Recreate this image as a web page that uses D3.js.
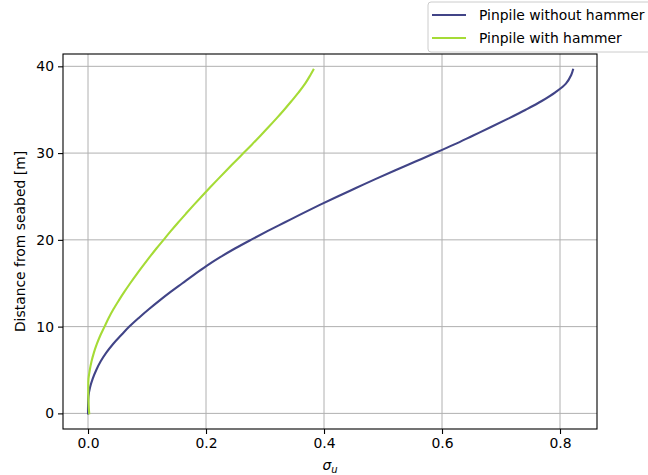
<!DOCTYPE html>
<html>
<head>
<meta charset="utf-8">
<script src="https://cdn.jsdelivr.net/npm/d3@7"></script>
<style>
  html, body { margin: 0; padding: 0; background: #fff; }
  svg { display: block; font-family: "DejaVu Sans", sans-serif; }
</style>
</head>
<body>
<svg id="chart" width="648" height="475"></svg>
<script>
// Standard deviation of displacement along the pile, sampled by height above seabed [m]
const heightNoHammer = [0, 1, 2, 3, 4, 5, 6, 7, 8, 9, 10, 11, 12, 13, 14, 15, 16, 17, 18, 19, 20,
  21, 22, 23, 24, 25, 26, 27, 28, 29, 30, 31, 32, 33, 34, 35, 36, 37, 38, 39, 39.6];
const sigmaNoHammer = [0, 0.0001, 0.0008, 0.0035, 0.008, 0.014, 0.0215, 0.031, 0.0425, 0.056, 0.070,
  0.086, 0.103, 0.121, 0.140, 0.160, 0.180, 0.201, 0.224, 0.249, 0.276,
  0.304, 0.333, 0.362, 0.392, 0.423, 0.455, 0.487, 0.520, 0.554, 0.588,
  0.621, 0.652, 0.683, 0.713, 0.742, 0.769, 0.792, 0.810, 0.819, 0.822];

const heightHammer = [0, 1, 2, 3, 4, 5, 6, 7, 8, 9, 10, 11, 12, 13, 14, 15, 16, 17, 18, 19, 20,
  21, 22, 23, 24, 25, 26, 27, 28, 29, 30, 31, 32, 33, 34, 35, 36, 37, 38, 39, 39.6];
const sigmaHammer = [0.002, 0.001, 0.0005, 0.0004, 0.0008, 0.003, 0.006, 0.010, 0.015, 0.021, 0.028,
  0.035, 0.043, 0.052, 0.0615, 0.0715, 0.082, 0.093, 0.1043, 0.1159, 0.128,
  0.1402, 0.1528, 0.1658, 0.179, 0.1925, 0.2063, 0.2203, 0.2345, 0.249, 0.2635,
  0.278, 0.2922, 0.306, 0.3195, 0.3325, 0.345, 0.357, 0.368, 0.377, 0.382];

const seriesNames  = ["Pinpile without hammer", "Pinpile with hammer"];
const seriesColors = ["#414487", "#a5db36"];

const xTicks = [0.0, 0.2, 0.4, 0.6, 0.8];
const yTicks = [0, 10, 20, 30, 40];

const svg = d3.select("#chart");
const margin = { left: 63, right: 51, top: 54, bottom: 46 };
const W = 648, H = 475;

const x = d3.scaleLinear().domain([-0.0424, 0.8627]).range([margin.left, W - margin.right]);
const y = d3.scaleLinear().domain([-1.8, 41.42]).range([H - margin.bottom, margin.top]);

const fontSize = 13.9;

// grid
const grid = svg.append("g").attr("stroke", "#b0b0b0").attr("stroke-width", 1);
xTicks.forEach(t => grid.append("line")
  .attr("x1", x(t)).attr("x2", x(t)).attr("y1", margin.top).attr("y2", H - margin.bottom));
yTicks.forEach(t => grid.append("line")
  .attr("x1", margin.left).attr("x2", W - margin.right).attr("y1", y(t)).attr("y2", y(t)));

// curves
const line = d3.line().x(d => x(d[0])).y(d => y(d[1])).curve(d3.curveCatmullRom.alpha(0.5));
const series = [
  d3.zip(sigmaNoHammer, heightNoHammer),
  d3.zip(sigmaHammer, heightHammer)
];
series.forEach((pts, i) => {
  svg.append("path").datum(pts)
    .attr("d", line)
    .attr("fill", "none")
    .attr("stroke", seriesColors[i])
    .attr("stroke-width", 2.1)
    .attr("stroke-linecap", "square");
});

// axes
const xAxis = svg.append("g")
  .attr("transform", `translate(0,${H - margin.bottom})`)
  .call(d3.axisBottom(x).tickValues(xTicks).tickFormat(d3.format(".1f")).tickSizeOuter(0).tickSize(5).tickPadding(4));
const yAxis = svg.append("g")
  .attr("transform", `translate(${margin.left},0)`)
  .call(d3.axisLeft(y).tickValues(yTicks).tickFormat(d3.format("d")).tickSizeOuter(0).tickSize(5).tickPadding(4));
[xAxis, yAxis].forEach(a => {
  a.select(".domain").remove();
  a.selectAll(".tick line").attr("stroke", "#000").attr("stroke-width", 1.1);
  a.selectAll(".tick text").attr("fill", "#000").style("font-size", fontSize + "px")
    .style("font-family", "DejaVu Sans, sans-serif");
});

// frame
svg.append("rect")
  .attr("x", margin.left).attr("y", margin.top)
  .attr("width", W - margin.left - margin.right)
  .attr("height", H - margin.top - margin.bottom)
  .attr("fill", "none").attr("stroke", "#000").attr("stroke-width", 1.1);

// axis labels
const xl = svg.append("text")
  .attr("x", (margin.left + W - margin.right) / 2).attr("y", 470)
  .attr("text-anchor", "middle").style("font-size", fontSize + "px");
xl.append("tspan").style("font-style", "italic").text("σ");
xl.append("tspan").style("font-style", "italic").style("font-size", (fontSize * 0.72) + "px")
  .attr("dy", 3).text("u");

svg.append("text")
  .attr("transform", `translate(25,${(margin.top + H - margin.bottom) / 2}) rotate(-90)`)
  .attr("text-anchor", "middle").style("font-size", fontSize + "px")
  .text("Distance from seabed [m]");

// legend
const lg = svg.append("g").attr("transform", "translate(428,2)");
lg.append("rect").attr("x", 0).attr("y", 0).attr("width", 240).attr("height", 50)
  .attr("rx", 3).attr("fill", "#fff").attr("fill-opacity", 0.8)
  .attr("stroke", "#cccccc").attr("stroke-width", 1);
seriesNames.forEach((name, i) => {
  const yy = 13 + i * 23;
  lg.append("line").attr("x1", 4).attr("x2", 38).attr("y1", yy).attr("y2", yy)
    .attr("stroke", seriesColors[i]).attr("stroke-width", 2.1);
  lg.append("text").attr("x", 51).attr("y", yy + 5)
    .style("font-size", fontSize + "px").text(name);
});
</script>
</body>
</html>
